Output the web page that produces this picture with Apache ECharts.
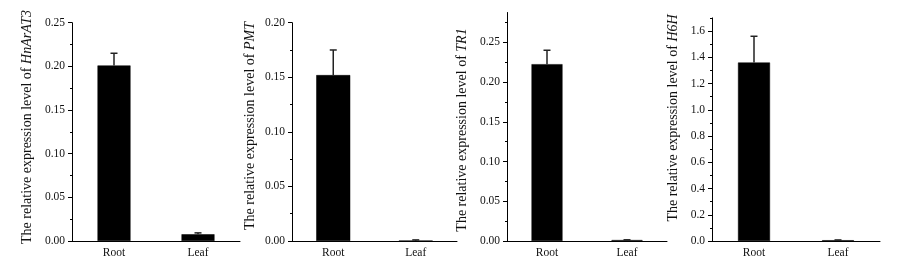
<!DOCTYPE html>
<html>
<head>
<meta charset="utf-8">
<script src="https://cdn.jsdelivr.net/npm/echarts@6/dist/echarts.min.js"></script>
<style>
html,body{margin:0;padding:0;background:#fff;}
#c{width:898px;height:266px;}
</style>
</head>
<body>
<div id="c"></div>
<script>
// ---- data ----
const categories = ['Root', 'Leaf'];
const genes = ['HnArAT3', 'PMT', 'TR1', 'H6H'];

const hnarat3Mean = [0.201, 0.0077];
const hnarat3Err  = [0.014, 0.0016];
const pmtMean = [0.152, 0.0003];
const pmtErr  = [0.023, 0.0007];
const tr1Mean = [0.2225, 0.0012];
const tr1Err  = [0.0175, 0.0003];
const h6hMean = [1.36, 0.006];
const h6hErr  = [0.20, 0.002];

const yTicks1 = [0, 0.05, 0.10, 0.15, 0.20, 0.25];
const yTicks2 = [0, 0.05, 0.10, 0.15, 0.20];
const yTicks3 = [0, 0.05, 0.10, 0.15, 0.20, 0.25];
const yTicks4 = [0, 0.2, 0.4, 0.6, 0.8, 1.0, 1.2, 1.4, 1.6];

const yMinor1 = [0.025, 0.075, 0.125, 0.175, 0.225];
const yMinor2 = [0.025, 0.075, 0.125, 0.175];
const yMinor3 = [0.025, 0.075, 0.125, 0.175, 0.225, 0.275];
const yMinor4 = [0.1, 0.3, 0.5, 0.7, 0.9, 1.1, 1.3, 1.5, 1.7];

// ---- layout ----
const panels = [
  {mean: hnarat3Mean, err: hnarat3Err, ticks: yTicks1, minor: yMinor1, max: 0.25, dec: 2,
   left: 72, width: 168, top: 22.7, barW: 33, tx: 27.5, ty: 127},
  {mean: pmtMean, err: pmtErr, ticks: yTicks2, minor: yMinor2, max: 0.20, dec: 2,
   left: 292, width: 165, top: 22.7, barW: 34, tx: 250, ty: 126},
  {mean: tr1Mean, err: tr1Err, ticks: yTicks3, minor: yMinor3, max: 0.2875, dec: 2,
   left: 507, width: 160, top: 12.5, barW: 31, tx: 462, ty: 130},
  {mean: h6hMean, err: h6hErr, ticks: yTicks4, minor: yMinor4, max: 1.7, dec: 1,
   left: 712, width: 168, top: 17.9, barW: 32, tx: 673.5, ty: 118}
];

const FONT = '"Liberation Serif", "Times New Roman", serif';
const grid = [], xAxis = [], yAxis = [], series = [], graphic = [];

panels.forEach((p, i) => {
  grid.push({left: p.left, width: p.width, top: p.top, bottom: 25, containLabel: false});
  // main x axis
  xAxis.push({
    type: 'category', gridIndex: i, data: categories, position: 'bottom',
    axisLine: {lineStyle: {color: '#000', width: 1}},
    axisTick: {alignWithLabel: true, length: 4, lineStyle: {color: '#000'}},
    axisLabel: {color: '#111', fontFamily: FONT, fontSize: 11.5, margin: 6}
  });
  // boundary ticks (inside)
  xAxis.push({
    type: 'category', gridIndex: i, data: categories, position: 'bottom', offset: 0,
    axisLine: {show: false},
    axisTick: {inside: true, length: 4, lineStyle: {color: '#000'}},
    axisLabel: {show: false}
  });
  // main y axis
  yAxis.push({
    type: 'value', gridIndex: i, min: 0, max: p.max, position: 'left',
    splitLine: {show: false},
    axisLine: {show: true, lineStyle: {color: '#000', width: 1}},
    axisTick: {show: true, length: 4, customValues: p.ticks, lineStyle: {color: '#000'}},
    axisLabel: {customValues: p.ticks, color: '#111', fontFamily: FONT, fontSize: 11.5, margin: 7,
                formatter: v => Number(v).toFixed(p.dec)}
  });
  // minor ticks
  yAxis.push({
    type: 'value', gridIndex: i, min: 0, max: p.max, position: 'left', offset: 0,
    splitLine: {show: false},
    axisLine: {show: false},
    axisTick: {show: true, length: 2, customValues: p.minor, lineStyle: {color: '#000'}},
    axisLabel: {show: false}
  });
  const xi = i * 2, yi = i * 2;
  series.push({
    type: 'bar', xAxisIndex: xi, yAxisIndex: yi, data: p.mean, barWidth: p.barW,
    itemStyle: {color: '#000', borderColor: '#000', borderWidth: 0.5},
    silent: true, z: 2
  });
  series.push({
    type: 'custom', xAxisIndex: xi, yAxisIndex: yi, z: 3, silent: true,
    data: categories.map((c, k) => [k, p.mean[k], p.mean[k] + p.err[k]]),
    renderItem: (params, api) => {
      const a = api.coord([api.value(0), api.value(1)]);
      const b = api.coord([api.value(0), api.value(2)]);
      const st = {stroke: '#222', lineWidth: 1.5};
      return {type: 'group', children: [
        {type: 'line', shape: {x1: a[0], y1: a[1], x2: b[0], y2: b[1]}, style: st},
        {type: 'line', shape: {x1: b[0] - 3.5, y1: b[1], x2: b[0] + 3.5, y2: b[1]}, style: st}
      ]};
    }
  });
  graphic.push({
    type: 'text', x: p.tx, y: p.ty, rotation: Math.PI / 2, silent: true,
    style: {
      text: '{a|The relative expression level of }{b|' + genes[i] + '}',
      align: 'center', verticalAlign: 'middle',
      rich: {
        a: {fontFamily: FONT, fontSize: 14, fill: '#111'},
        b: {fontFamily: FONT, fontSize: 14, fontStyle: 'italic', fill: '#111'}
      }
    }
  });
});

const chart = echarts.init(document.getElementById('c'), null, {renderer: 'canvas'});
chart.setOption({animation: false, backgroundColor: '#fff', grid, xAxis, yAxis, series, graphic});
</script>
</body>
</html>
